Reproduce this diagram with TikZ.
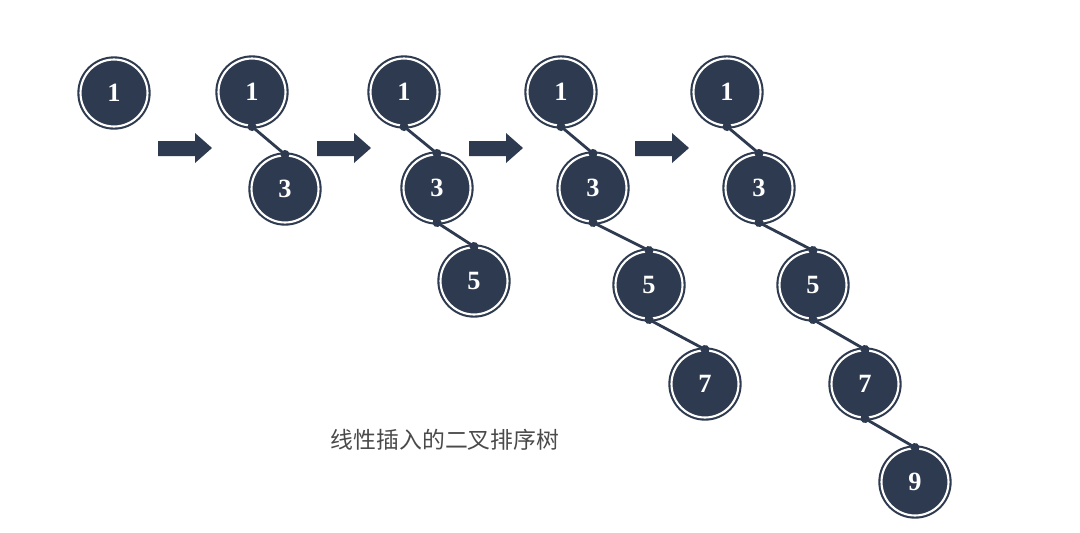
\documentclass[tikz,border=0pt]{standalone}
\usepackage{fontspec}
\setmainfont{Liberation Serif}
\newfontfamily\cjk{Noto Sans CJK SC}
\usetikzlibrary{arrows.meta}
\definecolor{navy}{HTML}{2D3A4F}
\definecolor{capgray}{HTML}{4A4A4A}
\tikzset{
  bnode/.style={circle, fill=navy, draw=navy, line width=1.2pt, double=white,
    double distance=1.2pt, minimum size=1.34cm, inner sep=0pt,
    text=white, font=\fontsize{15}{17}\selectfont\bfseries},
  edge/.style={draw=navy, line width=1.6pt, {Circle[length=5pt]}-{Circle[length=5pt]},
    shorten <=-2.5pt, shorten >=-2.5pt}
}
\begin{document}
\begin{tikzpicture}[x=0.02cm, y=-0.02cm]
\useasboundingbox[fill=white] (0,0) rectangle (1080,532);
% step 1
\node[bnode] (a1) at (114,93) {1};
% step 2
\node[bnode] (b1) at (252,92) {1};
\node[bnode] (b3) at (285,189) {3};
% step 3
\node[bnode] (c1) at (404,92) {1};
\node[bnode] (c3) at (437,188) {3};
\node[bnode] (c5) at (474,281) {5};
% step 4
\node[bnode] (d1) at (561,92) {1};
\node[bnode] (d3) at (593,188) {3};
\node[bnode] (d5) at (649,285) {5};
\node[bnode] (d7) at (705,384) {7};
% step 5
\node[bnode] (e1) at (727,92) {1};
\node[bnode] (e3) at (759,188) {3};
\node[bnode] (e5) at (813,285) {5};
\node[bnode] (e7) at (865,384) {7};
\node[bnode] (e9) at (915,482) {9};
% links
\draw[edge] (b1.south)--(b3.north);
\draw[edge] (c1.south)--(c3.north);
\draw[edge] (c3.south)--(c5.north);
\draw[edge] (d1.south)--(d3.north);
\draw[edge] (d3.south)--(d5.north);
\draw[edge] (d5.south)--(d7.north);
\draw[edge] (e1.south)--(e3.north);
\draw[edge] (e3.south)--(e5.north);
\draw[edge] (e5.south)--(e7.north);
\draw[edge] (e7.south)--(e9.north);
% arrows between steps
\foreach \x in {158,317,469,635}
  \fill[navy] (\x,141)--(\x+37,141)--(\x+37,133)--(\x+54,148)--(\x+37,163)--(\x+37,156)--(\x,156)--cycle;
\node[text=capgray, font=\cjk\fontsize{13}{16}\selectfont] (cap) at (445,440) {线性插入的二叉排序树};
\end{tikzpicture}
\end{document}
